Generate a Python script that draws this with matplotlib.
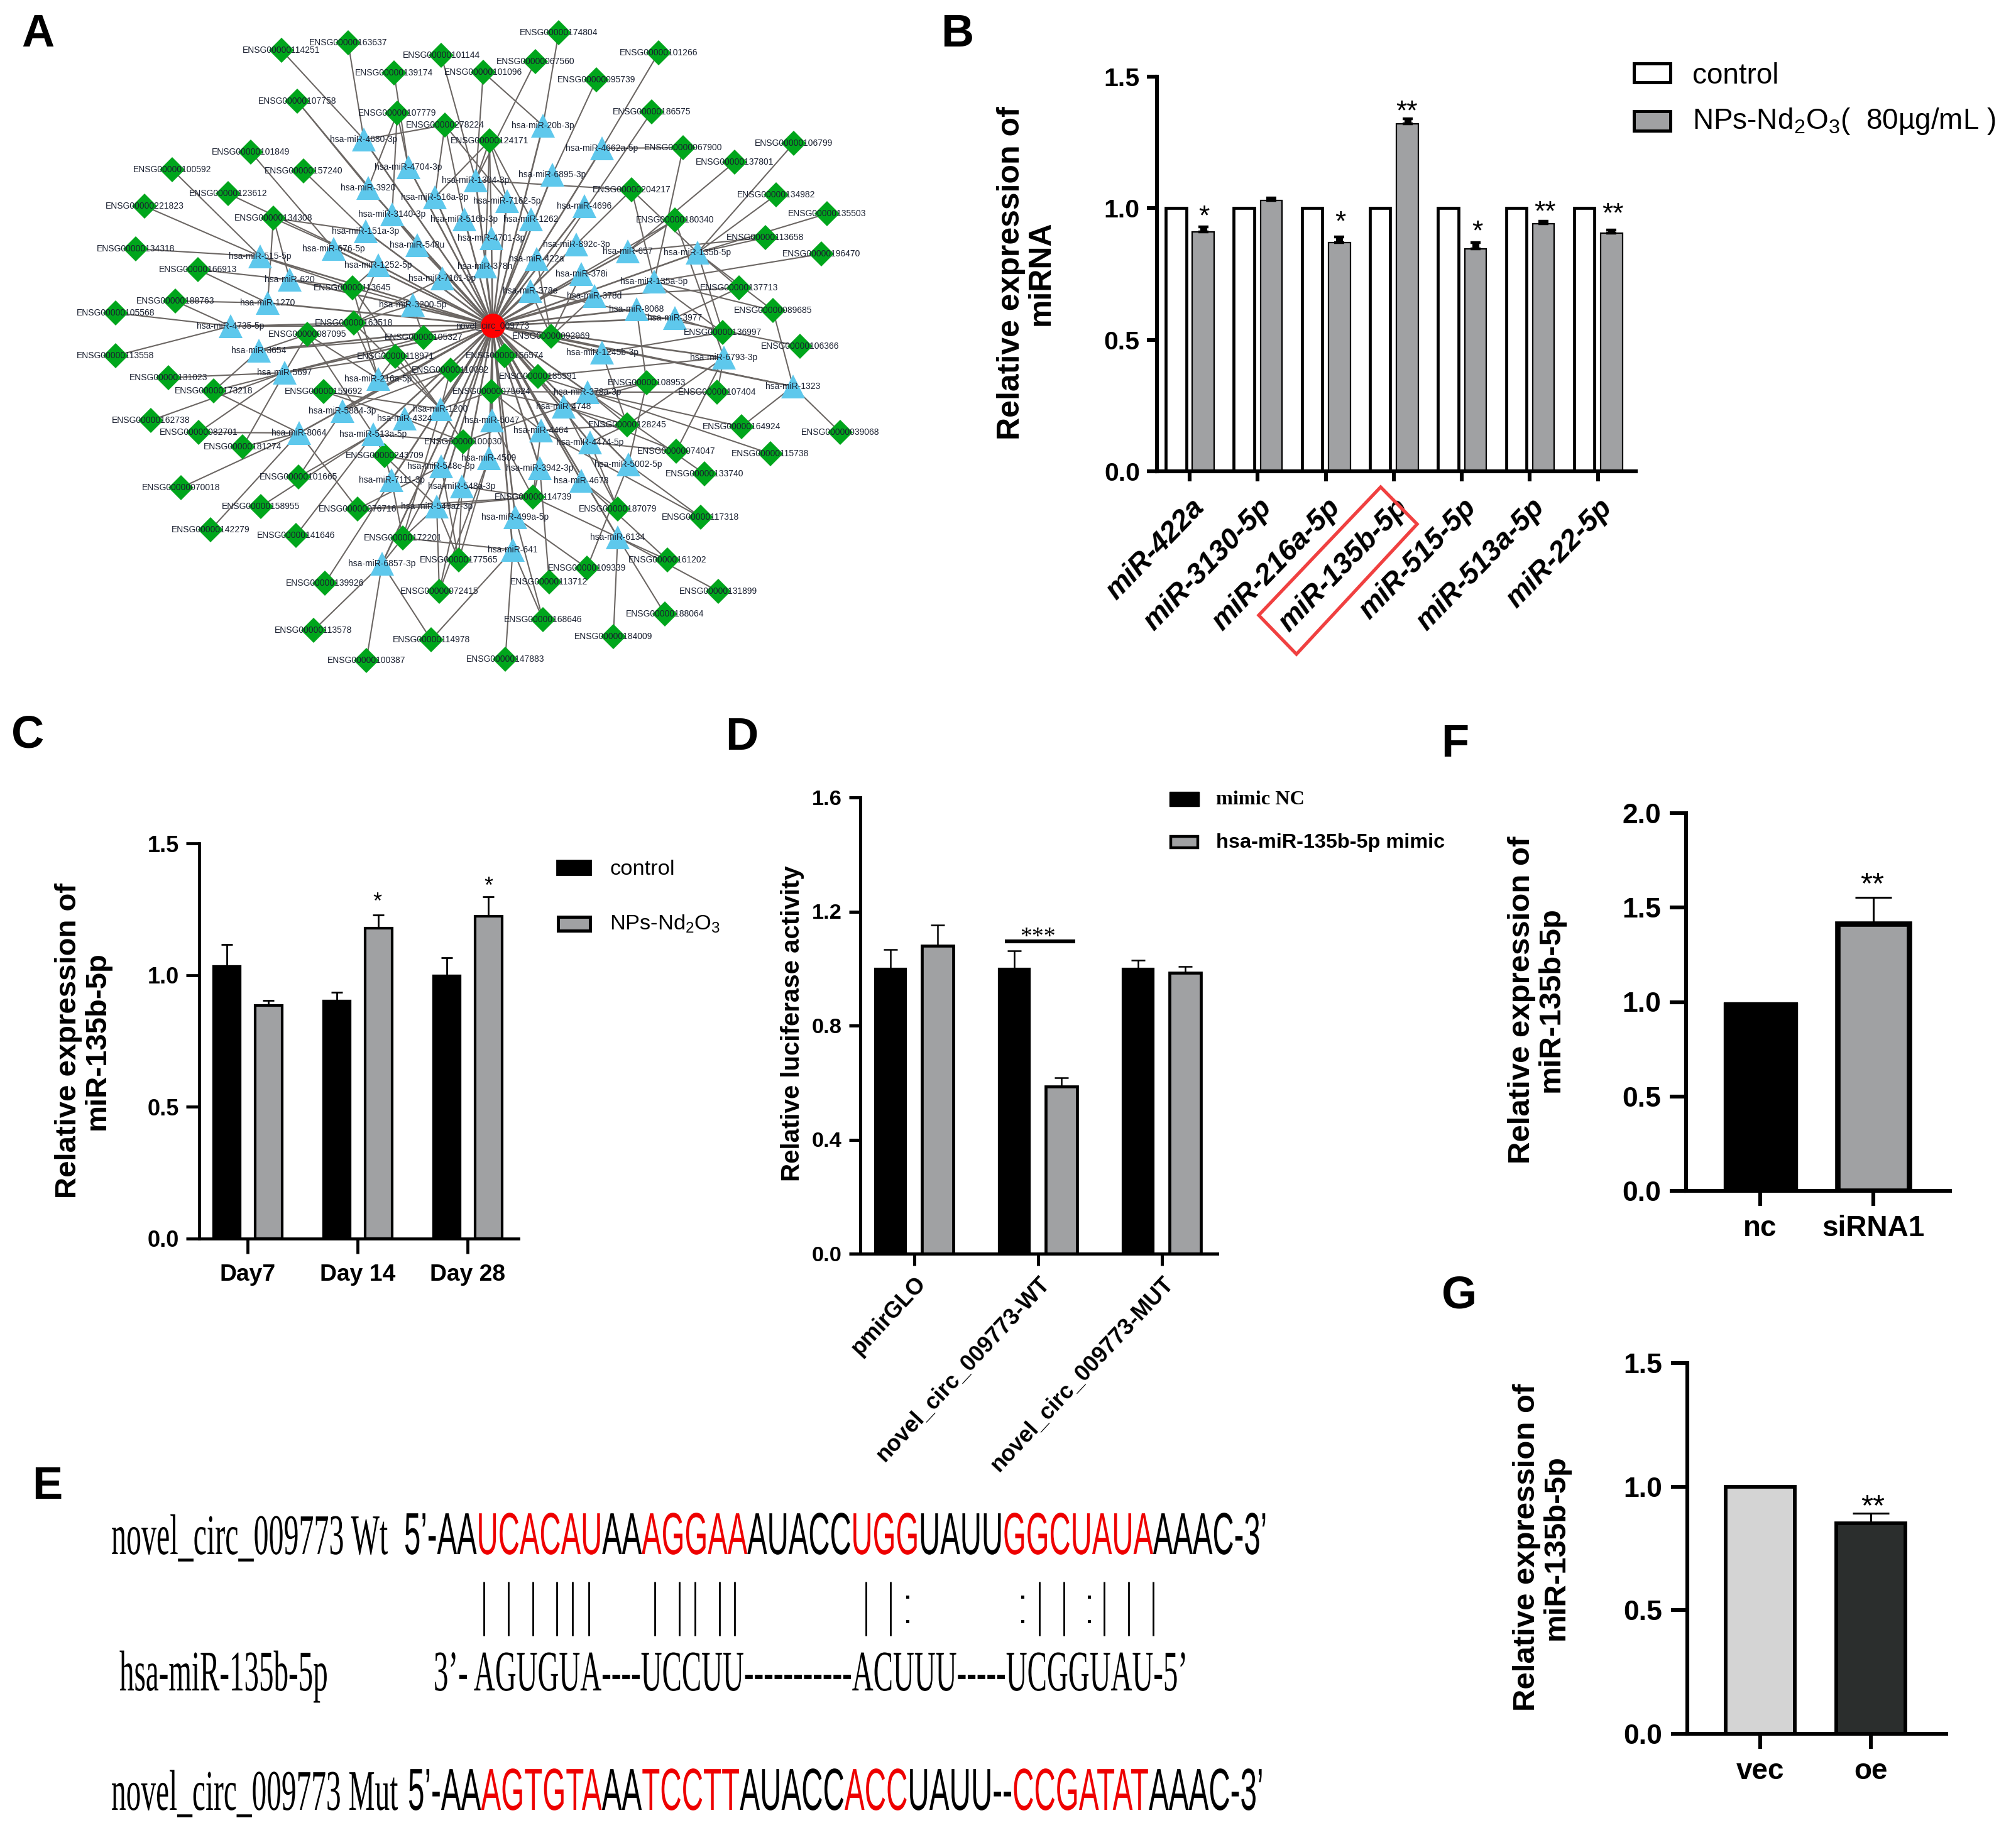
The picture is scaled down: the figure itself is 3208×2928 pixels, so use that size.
import matplotlib
matplotlib.use('Agg')
import matplotlib.pyplot as plt
from matplotlib.patches import Rectangle, Polygon
from matplotlib.patheffects import AbstractPathEffect
from matplotlib.transforms import Affine2D

W, H = 3208, 2928
DPI = 200
plt.rcParams['font.family'] = ['Liberation Sans', 'DejaVu Sans']
plt.rcParams['mathtext.fontset'] = 'custom'
plt.rcParams['mathtext.rm'] = 'Liberation Sans'
plt.rcParams['mathtext.default'] = 'regular'

# ---- panel A network, node places ----
hub_name = 'novel_circ_009773'
hub_x, hub_y = 784, 518

gene_ids = ['114251', '163637', '139174', '107758', '107779', '101849', '100592', '157240', '123612', '221823',
            '134308', '134318', '166913', '113645', '188763', '105568', '163518', '087095', '105327', '101144',
            '278224', '174804', '101266', '067560', '101096', '095739', '186575', '124171', '106799', '067900',
            '137801', '204217', '134982', '135503', '180340', '113658', '196470', '137713', '089685', '136997',
            '106366', '092969', '113558', '118971', '131023', '110092', '173218', '159692', '162738', '082701',
            '100030', '181274', '243709', '070018', '101665', '158955', '076716', '142279', '141646', '172201',
            '177565', '139926', '072415', '113578', '114978', '100387', '156574', '185591', '108953', '075624',
            '107404', '128245', '164924', '039068', '074047', '115738', '133740', '114739', '187079', '117318',
            '161202', '109339', '113712', '131899', '188064', '168646', '184009', '147883']
gene_x = [448, 554, 627, 473, 632, 399, 274, 483, 363, 230,
          435, 216, 315, 561, 279, 184, 563, 489, 674, 702,
          708, 889, 1048, 852, 769, 949, 1037, 779, 1263, 1087,
          1169, 1005, 1235, 1316, 1074, 1218, 1307, 1176, 1230, 1150,
          1273, 877, 184, 629, 268, 717, 340, 515, 240, 316,
          737, 386, 612, 288, 475, 415, 569, 335, 471, 641,
          730, 517, 699, 499, 686, 583, 803, 856, 1029, 782,
          1141, 998, 1180, 1337, 1076, 1226, 1121, 848, 983, 1115,
          1062, 934, 874, 1143, 1058, 864, 976, 804]
gene_y = [80, 68, 116, 161, 180, 242, 270, 272, 308, 328,
          347, 396, 429, 458, 479, 498, 514, 532, 537, 88,
          199, 52, 84, 98, 115, 127, 178, 224, 228, 235,
          258, 302, 310, 340, 350, 378, 404, 458, 494, 529,
          551, 535, 566, 567, 601, 589, 622, 623, 669, 688,
          703, 711, 725, 776, 759, 806, 810, 843, 852, 856,
          891, 928, 941, 1003, 1018, 1051, 566, 599, 609, 623,
          624, 676, 679, 688, 718, 722, 754, 791, 810, 823,
          891, 904, 926, 941, 977, 986, 1013, 1049]

mir_ids = ['4680-3p', '4704-3p', '3920', '516a-3p', '3140-3p', '151a-3p', '548u', '676-5p', '515-5p', '1252-5p',
           '7161-5p', '620', '3200-5p', '1270', '4735-5p', '3654', '20b-3p', '4662a-5p', '6895-3p', '1304-3p',
           '7162-5p', '4696', '516b-3p', '1262', '4701-3p', '892c-3p', '657', '135b-5p', '422a', '378h',
           '378i', '135a-5p', '378e', '378d', '8068', '3977', '5697', '216a-5p', '5884-3p', '1200',
           '4324', '8064', '513a-5p', '548e-3p', '7111-3p', '548a-3p', '548az-3p', '6857-3p', '4509', '1245b-3p',
           '6793-3p', '1323', '378a-3p', '4748', '5047', '4464', '4474-5p', '5002-5p', '3942-3p', '4678',
           '499a-5p', '6134', '641']
mir_x = [579, 650, 586, 692, 624, 582, 664, 531, 414, 602,
         704, 461, 657, 426, 367, 412, 864, 958, 879, 757,
         807, 930, 739, 845, 782, 917, 999, 1110, 854, 772,
         925, 1041, 844, 946, 1013, 1074, 453, 602, 545, 701,
         644, 476, 594, 702, 623, 735, 695, 608, 778, 958,
         1152, 1262, 935, 897, 783, 861, 939, 1000, 859, 925,
         820, 983, 816]
mir_y = [222, 266, 299, 314, 341, 368, 390, 396, 408, 422,
         443, 445, 485, 482, 519, 558, 200, 236, 278, 287,
         320, 328, 349, 349, 379, 389, 400, 402, 412, 424,
         436, 448, 463, 471, 492, 506, 593, 603, 654, 651,
         666, 689, 691, 742, 764, 774, 806, 897, 729, 561,
         569, 615, 624, 647, 669, 685, 704, 739, 745, 765,
         823, 855, 875]

gene_edges = [('114251', '4680-3p'), ('163637', '4680-3p'), ('278224', '4680-3p'), ('139174', '4704-3p'),
              ('107779', '3920'), ('107779', '3140-3p'), ('107779', '4704-3p'), ('107758', '3920'),
              ('107758', '548u'), ('101849', '676-5p'), ('100592', '515-5p'), ('157240', '151a-3p'),
              ('123612', '1252-5p'), ('221823', '515-5p'), ('134308', '151a-3p'), ('134308', '1252-5p'),
              ('134308', '620'), ('134308', '1270'), ('134318', '515-5p'), ('166913', '620'), ('166913', '1270'),
              ('188763', '1270'), ('188763', '4735-5p'), ('105568', '4735-5p'), ('113558', '4735-5p'),
              ('113645', '515-5p'), ('113645', '620'), ('113645', '3200-5p'), ('113645', '1252-5p'),
              ('113645', '216a-5p'), ('113645', '1200'), ('101144', '1304-3p'), ('278224', '516a-3p'),
              ('278224', '516b-3p'), ('278224', '7162-5p'), ('101096', '20b-3p'), ('101096', '1304-3p'),
              ('067560', '1304-3p'), ('174804', '20b-3p'), ('101266', '4662a-5p'), ('095739', '6895-3p'),
              ('186575', '378e'), ('124171', '1304-3p'), ('124171', '7162-5p'), ('124171', '1262'),
              ('124171', '4701-3p'), ('124171', '378h'), ('124171', '516a-3p'), ('067900', '4662a-5p'),
              ('067900', '135a-5p'), ('137801', '657'), ('106799', '135b-5p'), ('204217', '1304-3p'),
              ('204217', '892c-3p'), ('204217', '135a-5p'), ('204217', '135b-5p'), ('134982', '135b-5p'),
              ('135503', '135b-5p'), ('180340', '657'), ('180340', '378i'), ('180340', '6793-3p'),
              ('113658', '135b-5p'), ('113658', '657'), ('196470', '135a-5p'), ('137713', '135b-5p'),
              ('137713', '378d'), ('137713', '3977'), ('089685', '135b-5p'), ('089685', '135a-5p'),
              ('089685', '1323'), ('136997', '135a-5p'), ('136997', '135b-5p'), ('136997', '3977'),
              ('136997', '1245b-3p'), ('106366', '378e'), ('092969', '422a'), ('092969', '378e'),
              ('092969', '378i'), ('092969', '378d'), ('092969', '1323'), ('163518', '4735-5p'),
              ('163518', '1252-5p'), ('163518', '7161-5p'), ('163518', '216a-5p'), ('163518', '1200'),
              ('163518', '3200-5p'), ('087095', '3654'), ('087095', '5697'), ('087095', '216a-5p'),
              ('087095', '513a-5p'), ('105327', '3654'), ('105327', '3200-5p'), ('105327', '5697'),
              ('118971', '5697'), ('118971', '216a-5p'), ('118971', '1200'), ('131023', '5697'),
              ('173218', '3654'), ('173218', '5697'), ('173218', '8064'), ('162738', '5697'), ('082701', '8064'),
              ('082701', '5697'), ('181274', '5697'), ('181274', '8064'), ('070018', '8064'), ('101665', '5884-3p'),
              ('101665', '513a-5p'), ('158955', '513a-5p'), ('142279', '8064'), ('141646', '513a-5p'),
              ('076716', '8064'), ('076716', '548e-3p'), ('076716', '548az-3p'), ('076716', '114739'),
              ('139926', '7111-3p'), ('113578', '6857-3p'), ('114978', '6857-3p'), ('114978', '641'),
              ('100387', '6857-3p'), ('159692', '1200'), ('159692', '4324'), ('110092', '216a-5p'),
              ('110092', '1200'), ('110092', '5884-3p'), ('100030', '4324'), ('100030', '513a-5p'),
              ('100030', '1200'), ('100030', '4748'), ('243709', '548e-3p'), ('243709', '7111-3p'),
              ('243709', '548az-3p'), ('243709', '513a-5p'), ('172201', '7111-3p'), ('172201', '548az-3p'),
              ('172201', '548e-3p'), ('172201', '641'), ('172201', '6857-3p'), ('172201', '1200'),
              ('177565', '548az-3p'), ('177565', '548e-3p'), ('177565', '548a-3p'), ('177565', '4509'),
              ('072415', '548az-3p'), ('072415', '548a-3p'), ('072415', '4509'), ('075624', '1200'),
              ('075624', '5047'), ('075624', '378a-3p'), ('075624', '4748'), ('075624', '4464'),
              ('156574', '4464'), ('185591', '6793-3p'), ('185591', '378a-3p'), ('185591', '4748'),
              ('108953', '8068'), ('108953', '4748'), ('108953', '5002-5p'), ('108953', '378a-3p'),
              ('107404', '378a-3p'), ('107404', '6793-3p'), ('128245', '1245b-3p'), ('128245', '6793-3p'),
              ('128245', '4464'), ('128245', '4474-5p'), ('128245', '378a-3p'), ('128245', '4748'),
              ('164924', '378a-3p'), ('164924', '1323'), ('039068', '1323'), ('074047', '6793-3p'),
              ('074047', '4474-5p'), ('074047', '4748'), ('115738', '378a-3p'), ('133740', '378a-3p'),
              ('114739', '3942-3p'), ('114739', '4464'), ('114739', '5047'), ('114739', '6134'),
              ('114739', '548a-3p'), ('114739', '548az-3p'), ('187079', '4678'), ('187079', '4748'),
              ('187079', '4474-5p'), ('117318', '5002-5p'), ('117318', '4464'), ('161202', '4678'),
              ('161202', '6134'), ('109339', '499a-5p'), ('109339', '5002-5p'), ('113712', '3942-3p'),
              ('131899', '6134'), ('188064', '6134'), ('168646', '641'), ('168646', '499a-5p'),
              ('184009', '6134'), ('147883', '641')]

# ---- panel B ----
b_names = ['miR-422a', 'miR-3130-5p', 'miR-216a-5p', 'miR-135b-5p', 'miR-515-5p', 'miR-513a-5p', 'miR-22-5p']
b_control = [1, 1, 1, 1, 1, 1, 1]
b_treated = [0.91, 1.03, 0.87, 1.32, 0.845, 0.94, 0.905]
b_err = [0.02, 0.01, 0.02, 0.02, 0.025, 0.01, 0.012]

# ---- panel C ----
c_days = ['Day7', 'Day 14', 'Day 28']
c_control = [1.035, 0.905, 1.0]
c_treated = [0.885, 1.178, 1.223]
c_control_err = [0.08, 0.03, 0.067]
c_treated_err = [0.018, 0.05, 0.075]

# ---- panel D ----
d_names = ['pmirGLO', 'novel_circ_009773-WT', 'novel_circ_009773-MUT']
d_nc = [1.0, 1.0, 1.0]
d_mimic = [1.08, 0.586, 0.986]
d_nc_err = [0.067, 0.062, 0.03]
d_mimic_err = [0.073, 0.031, 0.022]

# ---- panel E ----
wt_runs = ['5’-AA', 'UCACAU', 'AA', 'AGGAA', 'AUACC', 'UGG', 'UAUU', 'GGCUAUA', 'AAAC-3’']
mut_runs = ['5’-AA', 'AGTGTA', 'AA', 'TCCTT', 'AUACC', 'ACC', 'UAUU--', 'CCGATAT', 'AAAC-3’']
mir_seq = '3’- AGUGUA----UCCUU-----------ACUUU-----UCGGUAU-5’'
match_x = [770, 809, 848, 886, 911, 937, 1042, 1081, 1106, 1145, 1169, 1378, 1417, 1654, 1693, 1757, 1796, 1835]
wobble_x = [1444, 1627, 1733]

# ---- panels F and G ----
f_names = ['nc', 'siRNA1']
f_values = [1.0, 1.414]
f_err = [0, 0.14]
g_names = ['vec', 'oe']
g_values = [1.0, 0.852]
g_err = [0, 0.04]

GREY = '#a0a1a3'
EDGE = '#6b6663'


class StretchY(AbstractPathEffect):
    # the sequences in panel E are squeezed tall, text stays a normal Text
    def __init__(self, sy, y0):
        super().__init__()
        self.sy = sy
        self.y0 = y0

    def draw_path(self, renderer, gc, tpath, affine, rgbFace=None):
        t = Affine2D().translate(0, -self.y0).scale(1, self.sy).translate(0, self.y0)
        renderer.draw_path(gc, tpath, affine + t, rgbFace)


def px_axes(left, top, right, bottom):
    ax = fig.add_axes([left / W, 1 - bottom / H, (right - left) / W, (bottom - top) / H])
    ax.spines[['top', 'right']].set_visible(False)
    ax.patch.set_visible(False)
    return ax


def style_axes(ax, lw, ylen, xlen, ticksize, ytop, yticks, pad=4):
    ax.spines[['left', 'bottom']].set_linewidth(lw)
    ax.set_ylim(0, ytop)
    ax.set_yticks(yticks)
    ax.set_yticklabels(['%.1f' % v for v in yticks], fontsize=ticksize, fontweight='bold')
    ax.tick_params(axis='y', width=lw, length=ylen, pad=pad)
    ax.tick_params(axis='x', width=lw, length=xlen, pad=pad)


def star(x, y, s, size, family='Liberation Sans'):
    # y is the middle of the asterisk, baseline is lower
    over.text(x, y + 0.58 * size * DPI / 72, s, ha='center', va='baseline', fontsize=size, family=family)


def ylab(x, y, s, size, weight='bold'):
    over.text(x, y, s, rotation=90, ha='center', va='center', multialignment='center',
              fontsize=size, fontweight=weight, linespacing=1.05)


def seq_line(x0, x1, base, cap, runs, family):
    r = fig.canvas.get_renderer()
    probe = over.text(0, 0, ''.join(runs), fontsize=10, family=family)
    size = 10 * (x1 - x0) / probe.get_window_extent(r).width
    probe.remove()
    sy = cap / (0.70 * size * DPI / 72)
    x = x0
    for i, run in enumerate(runs):
        t = over.text(x, base, run, fontsize=size, family=family, ha='left', va='baseline',
                      color='#ee0000' if i % 2 else 'black', path_effects=[StretchY(sy, H - base)])
        x += t.get_window_extent(r).width


fig = plt.figure(figsize=(W / DPI, H / DPI), dpi=DPI)
over = fig.add_axes([0, 0, 1, 1], zorder=10)
over.set_xlim(0, W)
over.set_ylim(H, 0)
over.axis('off')

# panel A
where = {}
for n, x, y in zip(gene_ids, gene_x, gene_y):
    where[n] = (x, y)
for n, x, y in zip(mir_ids, mir_x, mir_y):
    where[n] = (x, y)
for a, b in gene_edges:
    over.plot([where[a][0], where[b][0]], [where[a][1], where[b][1]], color=EDGE, lw=0.75, zorder=1)
for x, y in zip(mir_x, mir_y):
    over.plot([hub_x, x], [hub_y, y], color=EDGE, lw=0.95, zorder=1)
over.plot(gene_x, gene_y, 'D', color='#00a61c', ms=10.2, mew=0, zorder=2)
over.plot(mir_x, mir_y, '^', color='#5ec8ec', ms=14, mew=0, zorder=2)
over.plot([hub_x], [hub_y], 'o', color='#ff0000', ms=14, mew=0, zorder=2)
for n, x, y in zip(gene_ids, gene_x, gene_y):
    over.text(x, y, 'ENSG00000' + n, fontsize=5, ha='center', va='center', color='#1a2030', zorder=3)
for n, x, y in zip(mir_ids, mir_x, mir_y):
    over.text(x, y, 'hsa-miR-' + n, fontsize=5, ha='center', va='center', color='#1a2030', zorder=3)
over.text(hub_x, hub_y, hub_name, fontsize=5, ha='center', va='center', color='#1a2030', zorder=3)

# panel B
ax = px_axes(1841, 122, 2603, 750)
style_axes(ax, 2.2, 5.8, 5.8, 14.8, 1.5, [0, 0.5, 1.0, 1.5])
pos = list(range(len(b_names)))
ax.bar([p - 0.2 for p in pos], b_control, 0.3, color='white', edgecolor='black', lw=1.7)
ax.bar([p + 0.2 for p in pos], b_treated, 0.32, color=GREY, edgecolor='black', lw=0.8)
ax.errorbar([p + 0.2 for p in pos], b_treated, yerr=[[0] * 7, b_err], fmt='none', ecolor='black',
            elinewidth=4, capsize=3, capthick=1.6)
ax.set_xlim(-0.48, 6.556)
ax.set_xticks(pos)
ax.set_xticklabels(b_names, rotation=46, ha='right', rotation_mode='anchor', fontsize=16.5,
                   fontweight='bold', fontstyle='italic')
ax.tick_params(axis='x', pad=7)
star(1916, 332, '*', 16)
star(2133, 341, '*', 16)
star(2239, 165, '**', 16)
star(2351, 356, '*', 16)
star(2459, 325, '**', 16)
star(2567, 328, '**', 16)
ylab(1633, 435, 'Relative expression of\nmiRNA', 18)
over.add_patch(Rectangle((2600, 101), 58, 30, fc='white', ec='black', lw=1.8))
over.add_patch(Rectangle((2600, 177), 58, 31, fc=GREY, ec='black', lw=1.8))
over.text(2693, 121, 'control', fontsize=16.5, va='center')
over.text(2693, 193, 'NPs-Nd$_2$O$_3$(  80µg/mL )', fontsize=16.5, va='center')
over.add_patch(Polygon([(2197, 775), (2255, 834), (2063, 1041), (2003, 979)], closed=True, fill=False,
                       ec='#f04040', lw=1.9))

# panel C
ax = px_axes(317, 1342, 825, 1971)
style_axes(ax, 1.7, 7.5, 8.5, 13, 1.5, [0, 0.5, 1.0, 1.5])
pos = list(range(3))
ax.bar([p - 0.19 for p in pos], c_control, 0.246, color='black', edgecolor='black', lw=1.2)
ax.bar([p + 0.19 for p in pos], c_treated, 0.246, color=GREY, edgecolor='black', lw=1.5)
ax.errorbar([p - 0.19 for p in pos], c_control, yerr=[[0] * 3, c_control_err], fmt='none', ecolor='black',
            elinewidth=1, capsize=3.2, capthick=1)
ax.errorbar([p + 0.19 for p in pos], c_treated, yerr=[[0] * 3, c_treated_err], fmt='none', ecolor='black',
            elinewidth=1, capsize=3.2, capthick=1)
ax.set_xlim((317 - 394) / 175, (825 - 394) / 175)
ax.set_xticks(pos)
ax.set_xticklabels(c_days, fontsize=13.4, fontweight='bold')
ax.tick_params(axis='x', pad=6)
star(600, 1425, '*', 13)
star(777, 1400, '*', 13)
ylab(132, 1656, 'Relative expression of\nmiR-135b-5p', 17)
over.add_patch(Rectangle((886, 1369), 54, 23, fc='black', ec='black', lw=1))
over.add_patch(Rectangle((888, 1459), 51, 22, fc=GREY, ec='black', lw=1.8))
over.text(970, 1383, 'control', fontsize=12.4, va='center')
over.text(970, 1470, 'NPs-Nd$_2$O$_3$', fontsize=12.4, va='center')

# panel D
ax = px_axes(1369, 1269, 1937, 1995)
style_axes(ax, 1.8, 6.5, 6.8, 12.4, 1.6, [0, 0.4, 0.8, 1.2, 1.6])
ax.bar([p - 0.19 for p in pos], d_nc, 0.25, color='black', edgecolor='black', lw=0.8)
ax.bar([p + 0.19 for p in pos], d_mimic, 0.25, color=GREY, edgecolor='black', lw=1.7)
ax.errorbar([p - 0.19 for p in pos], d_nc, yerr=[[0] * 3, d_nc_err], fmt='none', ecolor='black',
            elinewidth=0.9, capsize=4, capthick=0.9)
ax.errorbar([p + 0.19 for p in pos], d_mimic, yerr=[[0] * 3, d_mimic_err], fmt='none', ecolor='black',
            elinewidth=0.9, capsize=4, capthick=0.9)
ax.set_xlim((1369 - 1454.5) / 197, (1937 - 1454.5) / 197)
ax.set_xticks(pos)
ax.set_xticklabels(d_names, rotation=47, ha='right', rotation_mode='anchor', fontsize=13, fontweight='bold')
over.plot([1599, 1711], [1498, 1498], color='black', lw=2.2, solid_capstyle='butt')
star(1651, 1479, '***', 13.6, 'Liberation Serif')
ylab(1261, 1629, 'Relative luciferase activity', 14.5)
over.add_patch(Rectangle((1861, 1260), 47, 23, fc='black', ec='black', lw=0.5))
over.add_patch(Rectangle((1863, 1331), 43, 18, fc=GREY, ec='black', lw=1.6))
over.text(1935, 1273, 'mimic NC', fontsize=11.6, va='center', family='Liberation Serif', fontweight='bold')
over.text(1935, 1341, 'hsa-miR-135b-5p mimic', fontsize=11.7, va='center', fontweight='bold')

# panel E
seq_line(177, 616, 2473, 64, ['novel_circ_009773 Wt'], 'Liberation Serif')
seq_line(643, 2015, 2473, 66, wt_runs, 'Liberation Sans')
over.vlines(match_x, 2517, 2603, color='black', lw=1.0)
for x in wobble_x:
    over.plot([x, x], [2541, 2580], ' ', marker='s', ms=1.8, color='black', mew=0)
seq_line(190, 522, 2690, 64, ['hsa-miR-135b-5p'], 'Liberation Serif')
seq_line(690, 1888, 2690, 64, [mir_seq], 'Liberation Serif')
seq_line(177, 632, 2880, 64, ['novel_circ_009773 Mut'], 'Liberation Serif')
seq_line(649, 1998, 2880, 66, mut_runs, 'Liberation Sans')

# panel F
ax = px_axes(2683, 1294, 3103, 1895)
style_axes(ax, 2.2, 9.4, 8.6, 16, 2.0, [0, 0.5, 1.0, 1.5, 2.0], pad=5)
ax.bar([0], f_values[0], 0.65, color='black', edgecolor='black', lw=0.5)
ax.bar([1], f_values[1], 0.63, color=GREY, edgecolor='black', lw=3.1)
ax.errorbar([1], f_values[1], yerr=[[0], [f_err[1]]], fmt='none', ecolor='black', elinewidth=1.1, capsize=10.5,
            capthick=1.1)
ax.set_xlim((2683 - 2801) / 180, (3103 - 2801) / 180)
ax.set_xticks([0, 1])
ax.set_xticklabels(f_names, fontsize=16.5, fontweight='bold')
star(2979, 1393, '**', 17.6)
ylab(2445, 1591, 'Relative expression of\nmiR-135b-5p', 17.7)

# panel G
ax = px_axes(2685, 2169, 3097, 2759)
style_axes(ax, 2.2, 9.4, 8.6, 16, 1.5, [0, 0.5, 1.0, 1.5], pad=5)
ax.bar([0], g_values[0], 0.63, color='#d4d4d4', edgecolor='black', lw=2.1)
ax.bar([1], g_values[1], 0.63, color='#2b2e2d', edgecolor='black', lw=2.1)
ax.errorbar([1], g_values[1], yerr=[[0], [g_err[1]]], fmt='none', ecolor='black', elinewidth=1.1, capsize=10.5,
            capthick=1.1)
ax.set_xlim((2685 - 2801) / 176, (3097 - 2801) / 176)
ax.set_xticks([0, 1])
ax.set_xticklabels(g_names, fontsize=16.5, fontweight='bold')
star(2980, 2383, '**', 17.6)
ylab(2453, 2462, 'Relative expression of\nmiR-135b-5p', 17.7)

# panel letters
for s, x, y in [('A', 60, 55), ('B', 1523, 55), ('C', 44, 1170), ('D', 1180, 1174), ('E', 75, 2366),
                ('F', 2315, 1185), ('G', 2322, 2062)]:
    over.text(x, y, s, fontsize=26, fontweight='bold', ha='center', va='center')

fig.savefig('out.png', dpi=DPI)
